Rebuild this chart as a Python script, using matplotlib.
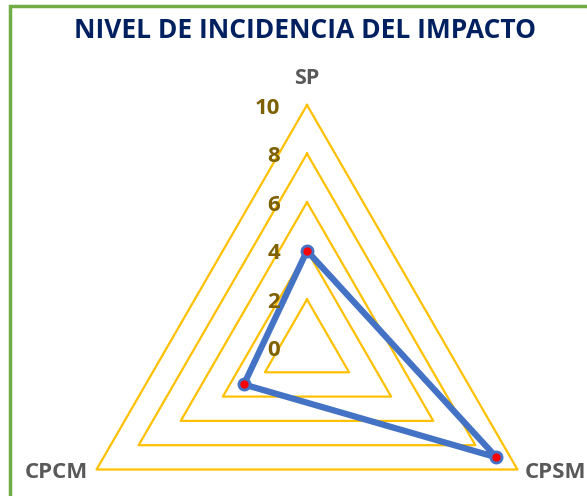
import numpy as np
import matplotlib
matplotlib.use("Agg")
import matplotlib.pyplot as plt
from matplotlib.patches import Rectangle

# data
categories = ["SP", "CPSM", "CPCM"]
values = [4, 9, 3]
angles_deg = [90, 330, 210]
grid_levels = [2, 4, 6, 8, 10]
tick_labels = ["0", "2", "4", "6", "8", "10"]
tick_values = [0, 2, 4, 6, 8, 10]

plt.rcParams['font.family'] = ['Open Sans', 'DejaVu Sans']

fig = plt.figure(figsize=(5.87, 4.96), dpi=100)
fig.patch.set_facecolor("white")

# green frame (cut off at right/bottom like the original)
fig.patches.append(Rectangle((10 / 587, -0.1), 1.2, (496 - 6) / 496 + 0.1,
                             transform=fig.transFigure, fill=False,
                             edgecolor="#70AD47", linewidth=2.5))

# polar axes placed so center is at (307, 348) px, radius 243 px
W, H = 587, 496
cx, cy, R = 307, 348, 243
ax = fig.add_axes([(cx - R) / W, (H - cy - R) / H, 2 * R / W, 2 * R / H],
                  projection="polar")
ax.set_ylim(0, 10)
ax.set_axis_off()

theta = np.deg2rad(angles_deg + [angles_deg[0]])

for lv in grid_levels:
    ax.plot(theta, [lv] * 4, color="#FFC000", lw=1.6, clip_on=False, zorder=1)

vals = values + [values[0]]
ax.plot(theta, vals, color="#4472C4", lw=4.5, clip_on=False, zorder=3,
        solid_joinstyle="round")
ax.plot(np.deg2rad(angles_deg), values, "o", color="#FF0000", ms=8,
        mec="#4472C4", mew=2, clip_on=False, zorder=4)

# radial tick labels
for v, lab in zip(tick_values, tick_labels):
    ax.annotate(lab, xy=(np.pi / 2, v), xytext=(-27, -3), textcoords="offset pixels",
                ha="right", va="center", fontsize=16, fontweight="bold",
                color="#7F6000", annotation_clip=False)

# category labels
ax.annotate(categories[0], xy=(np.pi / 2, 10), xytext=(0, 27), textcoords="offset pixels",
            ha="center", va="center", fontsize=15.5, fontweight="bold",
            color="#595959", annotation_clip=False)
ax.annotate(categories[1], xy=(np.deg2rad(330), 10), xytext=(7, -3), textcoords="offset pixels",
            ha="left", va="center", fontsize=16, fontweight="bold",
            color="#595959", annotation_clip=False)
ax.annotate(categories[2], xy=(np.deg2rad(210), 10), xytext=(-9, -3), textcoords="offset pixels",
            ha="right", va="center", fontsize=16, fontweight="bold",
            color="#595959", annotation_clip=False)

fig.text(305 / W, 1 - 30 / H, "NIVEL DE INCIDENCIA DEL IMPACTO", ha="center", va="center",
         fontsize=19, fontweight="bold", color="#002060")

fig.savefig("out.png", dpi=100)
